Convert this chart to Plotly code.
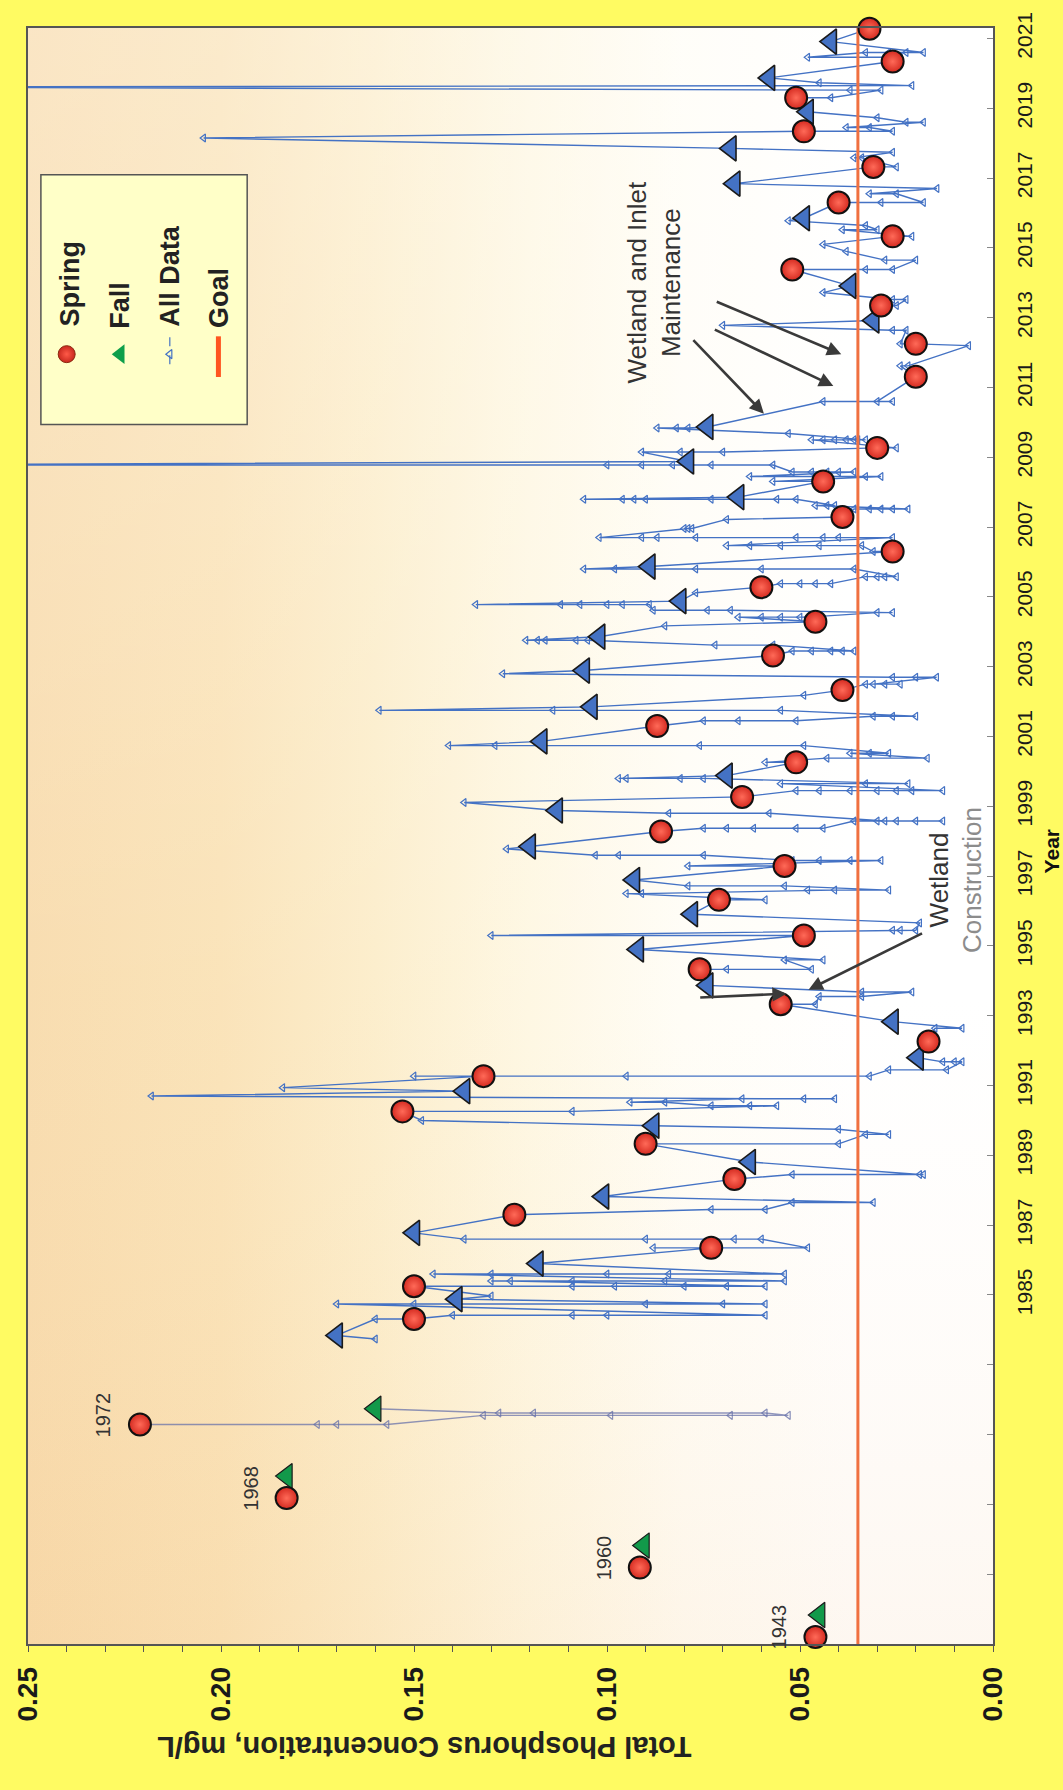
import base64
import plotly.graph_objects as go

# ------------------------------------------------------------------ data
# early surveys are plotted at placeholder positions on the time axis
early_labels = ["1943", "1960", "1968", "1972"]
early_spring_pos = [1975.20, 1977.19, 1979.18, 1981.29]
early_spring_tp = [0.046, 0.0915, 0.183, 0.221]
early_fall_pos = [1975.83, 1977.82, 1979.81, 1981.74]
early_fall_tp = [0.045, 0.0905, 0.183, 0.160]

profile_1972_dates = [1981.29, 1981.55, 1981.62, 1981.74]
profile_1972_tp = [[0.221, 0.175, 0.170, 0.157], [0.132, 0.099, 0.068, 0.053],
                   [0.059, 0.119, 0.128], [0.160]]

spring_year = [1984.31, 1985.25, 1986.35, 1987.30, 1988.32, 1989.33, 1990.26, 1991.27,
               1992.26, 1993.33, 1994.33, 1995.30, 1996.32, 1997.29, 1998.28, 1999.27,
               2000.26, 2001.30, 2002.33, 2003.32, 2004.29, 2005.28, 2006.30, 2007.29,
               2008.31, 2009.27, 2011.31, 2012.25, 2013.35, 2014.38, 2015.33, 2016.30,
               2017.32, 2018.34, 2019.30, 2020.34, 2021.28]
spring_tp = [0.150, 0.150, 0.073, 0.124, 0.067, 0.090, 0.153, 0.132,
             0.0167, 0.055, 0.076, 0.049, 0.071, 0.054, 0.086, 0.065,
             0.051, 0.087, 0.039, 0.057, 0.046, 0.060, 0.026, 0.039,
             0.044, 0.030, 0.020, 0.020, 0.029, 0.052, 0.026, 0.040,
             0.031, 0.049, 0.051, 0.026, 0.032]

fall_year = [1983.84, 1984.88, 1985.90, 1986.78, 1987.82, 1988.81, 1989.85, 1990.84,
             1991.80, 1992.83, 1993.87, 1994.90, 1995.91, 1996.89, 1997.85, 1998.88,
             1999.88, 2000.86, 2001.85, 2002.89, 2003.86, 2004.88, 2005.87, 2007.86,
             2008.88, 2009.87, 2012.92, 2013.91, 2015.85, 2016.84, 2017.85, 2018.90,
             2019.87, 2020.91]
fall_tp = [0.170, 0.139, 0.118, 0.150, 0.101, 0.063, 0.088, 0.137,
           0.0195, 0.026, 0.074, 0.092, 0.078, 0.093, 0.120, 0.113,
           0.069, 0.117, 0.104, 0.106, 0.102, 0.081, 0.089, 0.066,
           0.079, 0.074, 0.031, 0.037, 0.049, 0.067, 0.068, 0.048,
           0.058, 0.042]

sample_dates = [
    1983.74, 1983.84, 1984.31, 1984.42, 1984.74, 1984.88, 1984.97, 1985.25, 1985.40, 1985.60,
    1985.90, 1986.35, 1986.60, 1986.78, 1987.30, 1987.45, 1987.65, 1987.82, 1988.32, 1988.45,
    1988.81, 1989.33, 1989.60, 1989.75, 1989.85, 1990.00, 1990.26, 1990.42, 1990.52, 1990.62,
    1990.70, 1990.84, 1990.94, 1991.27, 1991.45, 1991.68, 1991.80, 1992.26, 1992.64, 1992.83,
    1993.33, 1993.55, 1993.68, 1993.87, 1994.33, 1994.60, 1994.90, 1995.30, 1995.45, 1995.66,
    1995.91, 1996.32, 1996.50, 1996.60, 1996.72, 1996.89, 1997.29, 1997.45, 1997.60, 1997.78,
    1997.85, 1998.28, 1998.37, 1998.58, 1998.80, 1998.88, 1999.11, 1999.27, 1999.45, 1999.65,
    1999.80, 1999.88, 2000.26, 2000.38, 2000.52, 2000.74, 2000.86, 2001.30, 2001.45, 2001.58,
    2001.75, 2001.85, 2002.18, 2002.33, 2002.50, 2002.70, 2002.80, 2002.89, 2003.32, 2003.45,
    2003.62, 2003.76, 2003.86, 2004.17, 2004.29, 2004.42, 2004.55, 2004.62, 2004.78, 2004.88,
    2005.12, 2005.28, 2005.38, 2005.58, 2005.80, 2005.87, 2006.30, 2006.47, 2006.70, 2006.96,
    2007.22, 2007.29, 2007.52, 2007.62, 2007.80, 2007.86, 2008.31, 2008.45, 2008.58, 2008.78,
    2008.88, 2009.15, 2009.27, 2009.50, 2009.68, 2009.84, 2009.87, 2010.60, 2011.31, 2011.62,
    2012.20, 2012.25, 2012.64, 2012.78, 2012.92, 2013.35, 2013.52, 2013.72, 2013.91, 2014.38,
    2014.65, 2014.90, 2015.10, 2015.33, 2015.52, 2015.64, 2015.78, 2015.85, 2016.30, 2016.55,
    2016.70, 2016.84, 2017.32, 2017.58, 2017.74, 2017.85, 2018.15, 2018.34, 2018.45, 2018.60,
    2018.73, 2018.90, 2019.30, 2019.52, 2019.61, 2019.65, 2019.73, 2019.87, 2020.34, 2020.46,
    2020.60, 2020.91, 2021.28]
sample_tp = [
    [0.160], [0.170], [0.160, 0.150], [0.140, 0.109, 0.100, 0.059],
    [0.170, 0.150, 0.090, 0.070, 0.059], [0.139], [0.130],
    [0.150, 0.109, 0.098, 0.080, 0.069, 0.059], [0.125, 0.130, 0.109, 0.085, 0.054],
    [0.145, 0.130, 0.100, 0.084, 0.054],
    [0.118], [0.073, 0.088, 0.048], [0.060, 0.067, 0.090, 0.137], [0.150], [0.124],
    [0.073, 0.059], [0.052, 0.031], [0.101], [0.067], [0.052, 0.018, 0.019],
    [0.063], [0.090, 0.040], [0.033, 0.027], [0.040], [0.088], [0.148], [0.153, 0.109],
    [0.056, 0.063, 0.073], [0.085, 0.094], [0.065, 0.041, 0.049],
    [0.218], [0.137], [0.184], [0.132, 0.150, 0.095, 0.032], [0.027, 0.012],
    [0.008, 0.010, 0.013], [0.0195], [0.0167], [0.015, 0.008], [0.026],
    [0.055, 0.046], [0.045, 0.034], [0.021, 0.034], [0.074], [0.076, 0.069, 0.047],
    [0.054, 0.044], [0.092], [0.049, 0.130], [0.024, 0.026, 0.020], [0.019],
    [0.078], [0.071, 0.059], [0.095, 0.091], [0.041, 0.048, 0.027], [0.054, 0.079],
    [0.093], [0.054, 0.079], [0.029, 0.037, 0.045, 0.052], [0.075, 0.097, 0.103], [0.126],
    [0.120], [0.086], [0.075, 0.069, 0.062, 0.051, 0.044], [0.036, 0.030, 0.025, 0.020, 0.013, 0.028],
    [0.058, 0.084], [0.113], [0.137], [0.065], [0.051, 0.045, 0.037, 0.030, 0.025, 0.021, 0.013],
    [0.055, 0.033, 0.022],
    [0.075, 0.081, 0.095, 0.097], [0.069], [0.051, 0.059], [0.043, 0.017], [0.037, 0.032, 0.027],
    [0.049, 0.076, 0.129, 0.141], [0.117], [0.087], [0.075, 0.066, 0.051], [0.031, 0.026, 0.020],
    [0.055, 0.114, 0.159], [0.104], [0.049], [0.039], [0.033, 0.028, 0.024, 0.031],
    [0.0146, 0.020, 0.026], [0.127], [0.106], [0.057], [0.052, 0.047, 0.042, 0.039, 0.036],
    [0.057, 0.072], [0.105, 0.108, 0.116, 0.118, 0.121], [0.102], [0.085], [0.046],
    [0.066, 0.060, 0.055, 0.050, 0.048], [0.030, 0.026], [0.068, 0.074, 0.088],
    [0.089, 0.096, 0.100, 0.107, 0.112, 0.134], [0.081],
    [0.077], [0.060], [0.055, 0.050, 0.046, 0.042], [0.033, 0.030, 0.028, 0.025],
    [0.036, 0.060, 0.077, 0.098, 0.106], [0.089], [0.026, 0.031],
    [0.034, 0.045, 0.055, 0.063, 0.069],
    [0.026, 0.040, 0.044, 0.051, 0.077, 0.087, 0.091, 0.102], [0.079, 0.080, 0.078],
    [0.069], [0.039], [0.036, 0.032, 0.029, 0.026, 0.022], [0.046, 0.043, 0.041],
    [0.051, 0.056, 0.073, 0.090, 0.093, 0.096, 0.106], [0.066], [0.044, 0.057],
    [0.029, 0.033, 0.063], [0.036, 0.040, 0.043, 0.047, 0.052],
    [0.057, 0.073, 0.083, 0.091, 0.100, 0.300],
    [0.079], [0.091, 0.081, 0.070], [0.030, 0.025], [0.047, 0.044, 0.041, 0.038, 0.036, 0.035, 0.033],
    [0.053], [0.087, 0.082, 0.079], [0.074], [0.044, 0.026, 0.030], [0.020], [0.024, 0.022],
    [0.0063], [0.020, 0.024], [0.0225, 0.026], [0.070], [0.031], [0.029, 0.025],
    [0.0225, 0.028, 0.026], [0.044], [0.037], [0.052, 0.033, 0.026],
    [0.020, 0.028], [0.038], [0.044], [0.026, 0.021], [0.039, 0.030], [0.033], [0.053], [0.049],
    [0.040, 0.029, 0.018], [0.025, 0.032],
    [0.0145], [0.067], [0.031, 0.025], [0.034, 0.036], [0.026], [0.068], [0.2045], [0.049, 0.026],
    [0.032, 0.038], [0.018, 0.0225],
    [0.030], [0.048], [0.051, 0.042], [0.029, 0.037], [0.300], [0.021], [0.045], [0.058], [0.026],
    [0.024, 0.048],
    [0.033, 0.027, 0.0225, 0.018], [0.042], [0.032]]

goal_tp = 0.035

tp_ticks = [0.25, 0.20, 0.15, 0.10, 0.05, 0.00]
tp_tick_labels = ["0.25", "0.20", "0.15", "0.10", "0.05", "0.00"]
year_ticks = [1975, 1977, 1979, 1981, 1983, 1985, 1987, 1989, 1991, 1993, 1995, 1997,
              1999, 2001, 2003, 2005, 2007, 2009, 2011, 2013, 2015, 2017, 2019, 2021]
year_tick_labels = ["", "", "", "", "", "1985", "1987", "1989", "1991", "1993", "1995", "1997",
                    "1999", "2001", "2003", "2005", "2007", "2009", "2011", "2013", "2015",
                    "2017", "2019", "2021"]

# ------------------------------------------------------------------ styling
W, H = 1063, 1790
ML, MR, MT, MB = 20, 70, 14, 146
PW, PH = W - ML - MR, H - MT - MB
YEAR_RANGE = [1975.0, 2021.3]
FONT = "Liberation Sans, Arial, sans-serif"
BLUE = "#4472C4"


def px(xp):
    return (xp - ML) / PW


def py(yp):
    return (H - MB - yp) / PH


all_x, all_y = [], []
for d, vals in zip(sample_dates, sample_tp):
    for v in vals:
        all_x.append(v)
        all_y.append(d)

p72_x, p72_y = [], []
for d, vals in zip(profile_1972_dates, profile_1972_tp):
    for v in vals:
        p72_x.append(v)
        p72_y.append(d)

fig = go.Figure()

# all data
fig.add_trace(go.Scatter(
    x=all_x, y=all_y, mode="lines+markers", name="All Data",
    line=dict(color=BLUE, width=1.4),
    marker=dict(symbol="triangle-left-open", size=7, color=BLUE, line=dict(width=1.2, color=BLUE)),
    showlegend=False))
fig.add_trace(go.Scatter(
    x=p72_x, y=p72_y, mode="lines+markers", name="1972 profile",
    line=dict(color="rgba(105,115,170,0.75)", width=1.4),
    marker=dict(symbol="triangle-left-open", size=7, color="rgba(105,115,170,0.8)",
                line=dict(width=1.2, color="rgba(105,115,170,0.8)")),
    showlegend=False))

# goal
fig.add_trace(go.Scatter(
    x=[goal_tp, goal_tp], y=YEAR_RANGE, mode="lines", name="Goal",
    line=dict(color="#F07040", width=3), showlegend=False))

# fall
fig.add_trace(go.Scatter(
    x=fall_tp, y=fall_year, mode="markers", name="Fall", cliponaxis=False,
    marker=dict(symbol="triangle-left", size=22, color=BLUE, line=dict(width=1.6, color="#1a1a1a")),
    showlegend=False))
fig.add_trace(go.Scatter(
    x=early_fall_tp, y=early_fall_pos, mode="markers", name="Fall (early)", cliponaxis=False,
    marker=dict(symbol="triangle-left", size=22, color="#12994A", line=dict(width=1.2, color="#1a1a1a")),
    showlegend=False))

# spring
spring_marker = dict(symbol="circle", size=22, color="#D42A20",
                     gradient=dict(type="radial", color="#FF6A58"),
                     line=dict(width=2, color="#111111"))
fig.add_trace(go.Scatter(
    x=spring_tp, y=spring_year, mode="markers", name="Spring", cliponaxis=False,
    marker=spring_marker, showlegend=False))
fig.add_trace(go.Scatter(
    x=early_spring_tp, y=early_spring_pos, mode="markers", name="Spring (early)", cliponaxis=False,
    marker=spring_marker, showlegend=False))

# ------------------------------------------------------------------ custom rotated legend
lx = [px(59), px(113), px(163), px(212)]
ly = py(343)
fig.add_trace(go.Scatter(x=[lx[0]], y=[ly], xaxis="x2", yaxis="y2", mode="markers",
                         marker=dict(symbol="circle", size=17, color="#C8281E",
                                     gradient=dict(type="radial", color="#FF5A48"),
                                     line=dict(width=1, color="#8a2a10")),
                         showlegend=False, hoverinfo="skip", cliponaxis=False))
fig.add_trace(go.Scatter(x=[lx[1]], y=[ly], xaxis="x2", yaxis="y2", mode="markers",
                         marker=dict(symbol="triangle-left", size=17, color="#0E9F4A"),
                         showlegend=False, hoverinfo="skip", cliponaxis=False))
fig.add_trace(go.Scatter(x=[lx[2], lx[2]], y=[py(326), py(360)], xaxis="x2", yaxis="y2",
                         mode="lines", line=dict(color=BLUE, width=1.2, dash="dash"),
                         showlegend=False, hoverinfo="skip", cliponaxis=False))
fig.add_trace(go.Scatter(x=[lx[2]], y=[ly], xaxis="x2", yaxis="y2", mode="markers",
                         marker=dict(symbol="triangle-left-open", size=8, color=BLUE,
                                     line=dict(width=1.2, color=BLUE)),
                         showlegend=False, hoverinfo="skip", cliponaxis=False))
fig.add_trace(go.Scatter(x=[lx[3], lx[3]], y=[py(325), py(366)], xaxis="x2", yaxis="y2",
                         mode="lines", line=dict(color="#FF5520", width=5),
                         showlegend=False, hoverinfo="skip", cliponaxis=False))

shapes = [dict(type="rect", xref="paper", yref="paper", x0=px(33), x1=px(241),
               y0=py(414), y1=py(162), fillcolor="#FFFFC8",
               line=dict(color="#555555", width=1.5), layer="below")]

annotations = []
legend_text = [("Spring", 62, 272), ("Fall", 112, 294), ("All Data", 163, 264), ("Goal", 212, 286)]
for t, xx, yy in legend_text:
    annotations.append(dict(text=t, xref="paper", yref="paper", x=px(xx), y=py(yy),
                            textangle=-90, showarrow=False, xanchor="center", yanchor="middle",
                            font=dict(family=FONT, size=27, color="#222222", weight="bold")))

# early year labels
for lab, xv, yv in zip(early_labels, early_spring_tp, early_spring_pos):
    annotations.append(dict(text=lab, xref="x", yref="y", x=xv, y=yv, xshift=-36, yshift=10,
                            textangle=-90, showarrow=False, xanchor="center", yanchor="middle",
                            font=dict(family=FONT, size=20, color="#333333")))

# text notes
annotations.append(dict(text="Wetland and Inlet<br>Maintenance", xref="paper", yref="paper",
                        x=px(651), y=py(270), textangle=-90, showarrow=False,
                        xanchor="center", yanchor="middle",
                        font=dict(family=FONT, size=26, color="#333333")))
annotations.append(dict(text="Wetland<br><span style='color:#8c8c8c'>Construction</span>",
                        xref="paper", yref="paper", x=px(955), y=py(873), textangle=-90,
                        showarrow=False, xanchor="center", yanchor="middle",
                        font=dict(family=FONT, size=26, color="#333333")))

arrows = [((840, 343), (714, 290)), ((832, 375), (712, 318)), ((762, 403), (690, 328)),
          ((807, 984), (922, 927)), ((785, 988), (697, 992))]
for (hx, hy), (tx, ty) in arrows:
    annotations.append(dict(text="", xref="paper", yref="paper", x=px(hx), y=py(hy),
                            ax=tx - hx, ay=ty - hy, showarrow=True, arrowhead=2,
                            arrowsize=1.1, arrowwidth=2.6, arrowcolor="#3a3a3a"))

# axis titles
annotations.append(dict(text="Year", xref="paper", yref="paper", x=px(1052), y=py(845),
                        textangle=-90, showarrow=False, xanchor="center", yanchor="middle",
                        font=dict(family=FONT, size=21, color="#111111", weight="bold")))
annotations.append(dict(text="Total Phosphorus Concentration, mg/L", xref="paper", yref="paper",
                        x=px(420), y=py(1748), textangle=180, showarrow=False,
                        xanchor="center", yanchor="middle",
                        font=dict(family=FONT, size=29, color="#222222", weight="bold")))

# background gradient for the plot area
svg = ('<svg xmlns="http://www.w3.org/2000/svg" width="973" height="1629" viewBox="0 0 973 1629" '
       'preserveAspectRatio="none"><defs>'
       '<linearGradient id="g" x1="0" y1="0" x2="1" y2="0">'
       '<stop offset="0" stop-color="#F8DBAC"/><stop offset="0.2" stop-color="#FAE2B6"/>'
       '<stop offset="0.36" stop-color="#FCEDCA"/><stop offset="0.52" stop-color="#FEF7E2"/>'
       '<stop offset="0.68" stop-color="#FFFDF6"/><stop offset="0.85" stop-color="#FFFFFF"/>'
       '<stop offset="1" stop-color="#FFFFFF"/>'
       '</linearGradient>'
       '<linearGradient id="v" x1="0" y1="0" x2="0" y2="1">'
       '<stop offset="0" stop-color="#FFFFFF" stop-opacity="0.30"/>'
       '<stop offset="0.6" stop-color="#FFFFFF" stop-opacity="0.05"/>'
       '<stop offset="1" stop-color="#F0B070" stop-opacity="0.10"/></linearGradient></defs>'
       '<rect width="973" height="1629" fill="url(#g)"/>'
       '<rect width="973" height="1629" fill="url(#v)"/></svg>')
bg_src = "data:image/svg+xml;base64," + base64.b64encode(svg.encode()).decode()

fig.update_layout(
    width=W, height=H, autosize=False,
    margin=dict(l=ML, r=MR, t=MT, b=MB, pad=0),
    paper_bgcolor="#FFFB62", plot_bgcolor="#FFFFFF",
    showlegend=False,
    images=[dict(source=bg_src, xref="paper", yref="paper", x=0, y=1, sizex=1, sizey=1,
                 xanchor="left", yanchor="top", sizing="stretch", layer="below")],
    shapes=shapes, annotations=annotations,
    xaxis=dict(range=[0.25, 0.0], tickvals=tp_ticks, ticktext=tp_tick_labels, tickangle=-90,
               ticks="outside", ticklen=6, tickcolor="#555555", tickwidth=1.2,
               minor=dict(dtick=0.01, ticks="outside", ticklen=6, tickcolor="#555555"),
               ticklabelstandoff=4, ticklabeloverflow="allow",
               tickfont=dict(family=FONT, size=28, color="#1a1a1a", weight="bold"),
               showline=True, linecolor="#555555", linewidth=1.6, mirror=True,
               showgrid=False, zeroline=False),
    yaxis=dict(range=YEAR_RANGE, side="right", tickvals=year_ticks, ticktext=year_tick_labels,
               tickangle=-90, ticks="inside", ticklen=6, tickcolor="#888888",
               ticklabelstandoff=12, ticklabeloverflow="allow",
               tickfont=dict(family=FONT, size=21, color="#1a1a1a"),
               showline=True, linecolor="#555555", linewidth=1.6, mirror=True,
               showgrid=False, zeroline=False),
    xaxis2=dict(overlaying="x", range=[0, 1], visible=False),
    yaxis2=dict(overlaying="y", range=[0, 1], visible=False),
)

fig.write_html("out.html", config={"displayModeBar": False},
               post_script="document.body.style.margin='0';document.body.style.overflow='hidden';")
